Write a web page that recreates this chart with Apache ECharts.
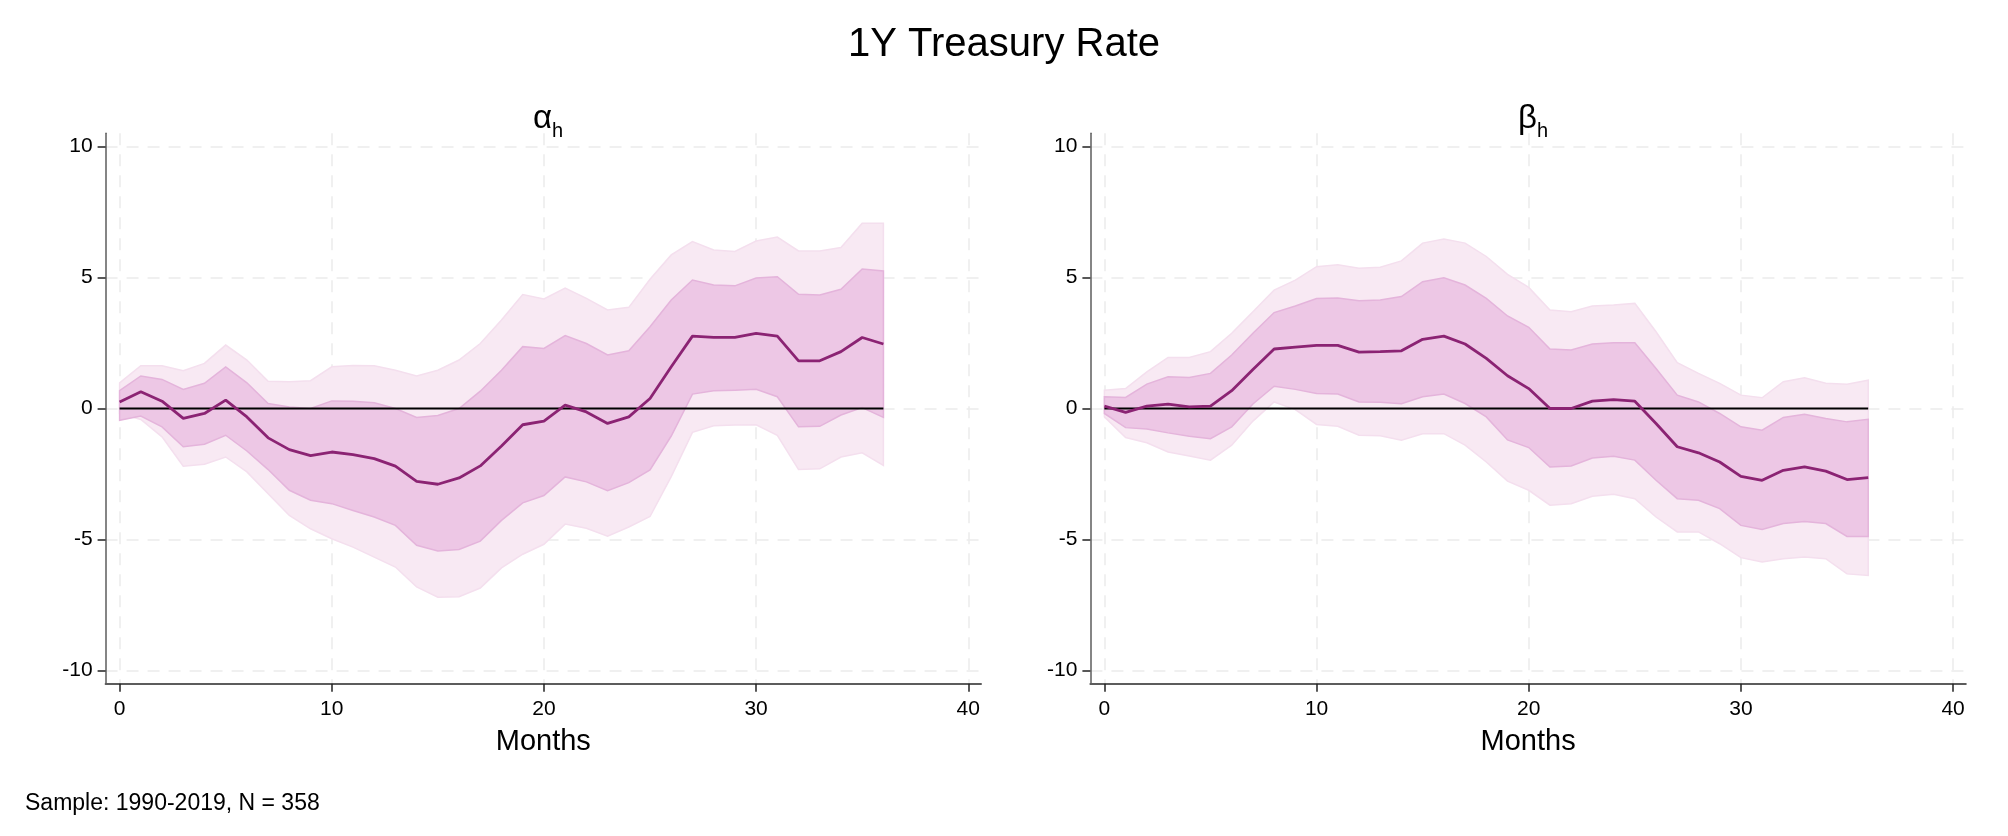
<!DOCTYPE html>
<html lang="en">

<head>
    <meta charset="UTF-8">
    <title>1Y Treasury Rate</title>
    <style>
        html,
        body {
            margin: 0;
            padding: 0;
            width: 100%;
            height: 100%;
            background-color: #fff;
        }

        #chart {
            width: 2008px;
            height: 836px;
        }
    </style>
</head>

<body>
    <div id="chart"></div>
    <script src="https://cdn.jsdelivr.net/npm/echarts@6/dist/echarts.min.js"></script>
    <script>
        // horizon in months
        const months = [0, 1, 2, 3, 4, 5, 6, 7, 8, 9, 10, 11, 12, 13, 14, 15, 16, 17, 18, 19,
            20, 21, 22, 23, 24, 25, 26, 27, 28, 29, 30, 31, 32, 33, 34, 35, 36]
        const xTicks = [0, 10, 20, 30, 40]
        const yTicks = [-10, -5, 0, 5, 10]
        const zeroLine = [[0, 0], [36, 0]]

        // alpha_h
        const alphaEst = [0.25, 0.64, 0.28, -0.38, -0.19, 0.32, -0.32, -1.12, -1.57, -1.80,
            -1.66, -1.76, -1.91, -2.20, -2.78, -2.89, -2.65, -2.19, -1.43, -0.62,
            -0.48, 0.13, -0.13, -0.57, -0.32, 0.38, 1.59, 2.76, 2.71, 2.71,
            2.87, 2.76, 1.82, 1.82, 2.17, 2.71, 2.46]
        const alphaHi68 = [0.68, 1.24, 1.11, 0.73, 0.96, 1.59, 0.98, 0.19, 0.06, 0.00,
            0.29, 0.28, 0.22, 0.00, -0.34, -0.27, 0.00, 0.66, 1.46, 2.36,
            2.29, 2.78, 2.48, 2.04, 2.20, 3.12, 4.14, 4.90, 4.71, 4.68,
            4.98, 5.03, 4.36, 4.33, 4.55, 5.32, 5.25]
        const alphaLo68 = [-0.45, -0.29, -0.70, -1.46, -1.36, -1.02, -1.62, -2.33, -3.12, -3.50,
            -3.63, -3.89, -4.14, -4.46, -5.22, -5.44, -5.38, -5.06, -4.27, -3.60,
            -3.32, -2.61, -2.80, -3.14, -2.83, -2.34, -1.05, 0.55, 0.68, 0.70,
            0.73, 0.45, -0.70, -0.68, -0.25, 0.04, -0.34]
        const alphaHi95 = [0.98, 1.63, 1.63, 1.44, 1.72, 2.42, 1.85, 1.04, 1.02, 1.06,
            1.59, 1.64, 1.63, 1.46, 1.24, 1.46, 1.85, 2.48, 3.38, 4.35,
            4.18, 4.59, 4.20, 3.76, 3.86, 4.93, 5.86, 6.37, 6.05, 5.99,
            6.39, 6.54, 6.01, 6.01, 6.14, 7.07, 7.07]
        const alphaLo95 = [-0.19, -0.42, -1.08, -2.20, -2.13, -1.85, -2.42, -3.25, -4.08, -4.59,
            -4.97, -5.29, -5.67, -6.05, -6.81, -7.20, -7.18, -6.85, -6.08, -5.56,
            -5.18, -4.41, -4.57, -4.87, -4.52, -4.12, -2.60, -0.91, -0.66, -0.63,
            -0.62, -1.02, -2.33, -2.30, -1.85, -1.69, -2.17]

        // beta_h
        const betaEst = [0.09, -0.15, 0.09, 0.17, 0.06, 0.09, 0.68, 1.49, 2.27, 2.34,
            2.41, 2.41, 2.15, 2.17, 2.20, 2.64, 2.76, 2.46, 1.91, 1.25,
            0.76, 0.00, 0.00, 0.28, 0.34, 0.28, -0.57, -1.46, -1.69, -2.04,
            -2.59, -2.74, -2.36, -2.23, -2.39, -2.71, -2.64]
        const betaHi68 = [0.45, 0.42, 0.93, 1.21, 1.18, 1.34, 2.04, 2.87, 3.66, 3.91,
            4.20, 4.22, 4.11, 4.14, 4.27, 4.84, 4.99, 4.71, 4.20, 3.53,
            3.10, 2.27, 2.23, 2.46, 2.51, 2.51, 1.53, 0.51, 0.25, -0.19,
            -0.70, -0.83, -0.34, -0.22, -0.38, -0.51, -0.41]
        const betaLo68 = [-0.19, -0.73, -0.78, -0.93, -1.06, -1.15, -0.70, 0.17, 0.85, 0.73,
            0.57, 0.55, 0.25, 0.24, 0.18, 0.45, 0.55, 0.19, -0.32, -1.20,
            -1.49, -2.23, -2.19, -1.89, -1.82, -1.97, -2.74, -3.44, -3.50, -3.82,
            -4.46, -4.62, -4.39, -4.31, -4.39, -4.88, -4.88]
        const betaHi95 = [0.70, 0.76, 1.40, 1.95, 1.95, 2.17, 2.87, 3.69, 4.52, 4.90,
            5.41, 5.48, 5.35, 5.39, 5.63, 6.31, 6.47, 6.31, 5.80, 5.12,
            4.62, 3.76, 3.69, 3.91, 3.95, 4.01, 2.93, 1.75, 1.34, 0.96,
            0.51, 0.41, 1.02, 1.17, 0.96, 0.93, 1.08]
        const betaLo95 = [-0.32, -1.11, -1.31, -1.66, -1.81, -1.97, -1.40, -0.48, 0.25, -0.04,
            -0.61, -0.68, -1.02, -1.04, -1.21, -0.96, -0.96, -1.40, -2.04, -2.77,
            -3.12, -3.69, -3.63, -3.35, -3.27, -3.44, -4.14, -4.71, -4.71, -5.16,
            -5.69, -5.86, -5.73, -5.67, -5.73, -6.31, -6.37]

        const FONT = 'Liberation Sans, Arial, Helvetica, sans-serif'
        const gridBox = [{ left: 105.6 }, { left: 1090.4 }]

        function band(idx, lo, hi, fill, stroke) {
            return {
                type: 'custom',
                xAxisIndex: idx,
                yAxisIndex: idx,
                silent: true,
                data: [[0, 0]],
                renderItem: function (params, api) {
                    const pts = []
                    months.forEach((m, i) => pts.push(api.coord([m, hi[i]])))
                    for (let i = months.length - 1; i >= 0; i--) pts.push(api.coord([months[i], lo[i]]))
                    return {
                        type: 'polygon',
                        shape: { points: pts },
                        style: { fill: fill, stroke: stroke, lineWidth: 1.5 }
                    }
                }
            }
        }

        function panelSeries(idx, est, lo68, hi68, lo95, hi95) {
            return [
                band(idx, lo95, hi95, '#f8e9f3', '#f4dfee'),
                band(idx, lo68, hi68, '#edc7e5', '#e4b4db'),
                {
                    type: 'line', xAxisIndex: idx, yAxisIndex: idx, data: zeroLine,
                    symbol: 'none', silent: true,
                    lineStyle: { color: '#000', width: 2 }
                },
                {
                    type: 'line', xAxisIndex: idx, yAxisIndex: idx,
                    data: months.map((m, i) => [m, est[i]]),
                    symbol: 'none', silent: true,
                    lineStyle: { color: '#8b2373', width: 2.8 }
                }
            ]
        }

        function subTitle(letter, x) {
            return {
                text: '{a|' + letter + '}{s|h}', left: x, top: 92, textAlign: 'center',
                textStyle: {
                    fontWeight: 'normal',
                    rich: {
                        a: { fontFamily: FONT, fontSize: 33, fontWeight: 'normal', color: '#000', lineHeight: 44 },
                        s: { fontFamily: FONT, fontSize: 20, fontWeight: 'normal', color: '#000', lineHeight: 14, verticalAlign: 'bottom' }
                    }
                }
            }
        }

        const splitStyle = { show: true, lineStyle: { color: '#ececec', width: 1.5, type: [12, 9] } }

        const xAxes = [0, 1].map(i => ({
            type: 'value', gridIndex: i, min: -0.66, max: 40.6,
            name: 'Months', nameLocation: 'middle', nameGap: 44,
            nameTextStyle: { fontFamily: FONT, fontSize: 29, color: '#000' },
            axisLine: { show: true, onZero: false, lineStyle: { color: '#5c5c5c', width: 2 } },
            axisTick: { show: true, length: 8, customValues: xTicks, lineStyle: { color: '#222', width: 1.5 } },
            axisLabel: { customValues: xTicks, fontFamily: FONT, fontSize: 21, color: '#000', margin: 15 },
            splitLine: splitStyle
        }))

        const yAxes = [0, 1].map(i => ({
            type: 'value', gridIndex: i, min: -10.5, max: 10.5,
            axisLine: { show: true, onZero: false, lineStyle: { color: '#5c5c5c', width: 1.5 } },
            axisTick: { show: true, length: 8, customValues: yTicks, lineStyle: { color: '#222', width: 1.5 } },
            axisLabel: { customValues: yTicks, fontFamily: FONT, fontSize: 21, color: '#000', margin: 13 },
            splitLine: splitStyle
        }))

        const chart = echarts.init(document.getElementById('chart'))
        chart.setOption({
            animation: false,
            backgroundColor: '#fff',
            title: [
                {
                    text: '1Y Treasury Rate', left: 'center', top: 20,
                    textStyle: { fontFamily: FONT, fontSize: 40, fontWeight: 'normal', color: '#000' }
                },
                subTitle('α', 543),
                subTitle('β', 1528),
                {
                    text: 'Sample: 1990-2019, N = 358', left: 20, top: 787,
                    textStyle: { fontFamily: FONT, fontSize: 23, fontWeight: 'normal', color: '#000' }
                }
            ],
            grid: gridBox.map(g => ({
                left: g.left, top: 133.3, width: 875.4, height: 550.4,
                outerBoundsMode: 'none'
            })),
            xAxis: xAxes,
            yAxis: yAxes,
            series: [
                ...panelSeries(0, alphaEst, alphaLo68, alphaHi68, alphaLo95, alphaHi95),
                ...panelSeries(1, betaEst, betaLo68, betaHi68, betaLo95, betaHi95)
            ]
        })
    </script>
</body>

</html>
